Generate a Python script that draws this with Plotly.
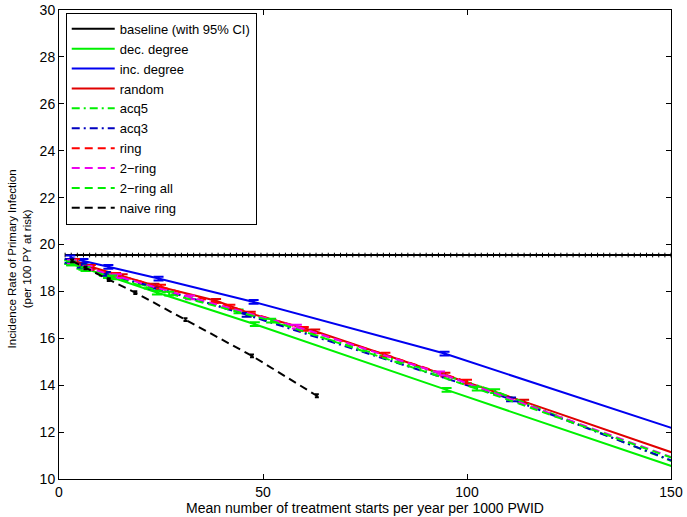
import plotly.graph_objects as go

# ---------------- data ----------------
baseline_value = 19.55
baseline_err = 0.1
baseline_x = [1.5, 3.0, 4.5, 6.0, 7.5, 9.0, 10.5, 12.0, 13.5, 15.0, 16.5, 18.0, 19.5, 21.0,
              22.5, 24.0, 25.5, 27.0, 28.5, 30.0, 31.5, 33.0, 34.5, 36.0, 37.5, 39.0, 40.5,
              42.0, 43.5, 45.0, 46.5, 48.0, 49.5, 51.0, 52.5, 54.0, 55.5, 57.0, 58.5, 60.0,
              61.5, 63.0, 64.5, 66.0, 67.5, 69.0, 70.5, 72.0, 73.5, 75.0, 76.5, 78.0, 79.5,
              81.0, 82.5, 84.0, 85.5, 87.0, 88.5, 90.0, 91.5, 93.0, 94.5, 96.0, 97.5, 99.0,
              100.5, 102.0, 103.5, 105.0, 106.5, 108.0, 109.5, 111.0, 112.5, 114.0, 115.5,
              117.0, 118.5, 120.0, 121.5, 123.0, 124.5, 126.0, 127.5, 129.0, 130.5, 132.0,
              133.5, 135.0, 136.5, 138.0, 139.5, 141.0, 142.5, 144.0, 145.5, 147.0, 148.5, 150.0]

dec_degree_x = [3.0, 6.0, 12.0, 24.0, 48.0, 95.0, 190.0]
dec_degree_y = [19.2, 19.0, 18.65, 17.95, 16.6, 13.8, 8.2]

inc_degree_x = [2.8, 6.0, 12.1, 24.4, 47.7, 94.5, 190.0]
inc_degree_y = [19.45, 19.3, 19.05, 18.55, 17.55, 15.35, 9.9]

random_x = [3.9, 7.8, 15.6, 23.4, 38.5, 47.0, 62.8, 94.7, 114.0, 190.0]
random_y = [19.3, 19.05, 18.65, 18.25, 17.6, 17.05, 16.3, 14.45, 13.3, 8.75]

acq5_x = [2.5, 5.5, 11.0, 22.0, 44.0, 106.9, 190.0]
acq5_y = [19.25, 19.05, 18.75, 18.2, 17.15, 13.75, 8.0]

acq3_x = [2.6, 5.6, 11.5, 23.0, 46.0, 110.8, 190.0]
acq3_y = [19.3, 19.1, 18.75, 18.2, 17.0, 13.4, 8.15]

ring_x = [3.5, 7.5, 14.0, 25.0, 42.0, 60.0, 80.0, 100.0]
ring_y = [19.25, 19.0, 18.7, 18.2, 17.35, 16.4, 15.3, 14.15]

ring2_x = [3.2, 7.0, 14.2, 32.1, 58.3, 93.4, 180.0]
ring2_y = [19.25, 19.0, 18.65, 17.75, 16.5, 14.5, 9.05]

ring2all_x = [3.0, 6.5, 13.0, 27.0, 52.0, 102.4, 190.0]
ring2all_y = [19.2, 18.95, 18.6, 17.9, 16.75, 13.85, 8.45]

naive_x = [3.2, 6.5, 12.2, 18.7, 31.0, 47.3, 63.2]
naive_y = [19.3, 19.0, 18.5, 17.95, 16.8, 15.25, 13.55]

series_err = 0.08

x_ticks = [0, 50, 100, 150]
y_ticks = [10, 12, 14, 16, 18, 20, 22, 24, 26, 28, 30]

FONT = "Liberation Sans, Arial, Helvetica, sans-serif"

# ---------------- figure ----------------
fig = go.Figure()

fig.add_trace(go.Scatter(
    x=baseline_x, y=[baseline_value] * len(baseline_x), mode="lines",
    name="baseline (with 95% CI)", line=dict(color="black", width=2),
    error_y=dict(type="constant", value=baseline_err, color="black", thickness=1, width=0),
))

def add_series(xs, ys, name, color, dash, width=2):
    fig.add_trace(go.Scatter(
        x=xs, y=ys, mode="lines", name=name,
        line=dict(color=color, width=width, dash=dash),
        error_y=dict(type="constant", value=series_err, color=color, thickness=2, width=5),
    ))

DASH = "8px,5px"
DASHDOT = "8px,4px,2px,4px"

add_series(dec_degree_x, dec_degree_y, "dec. degree", "#00f000", "solid")
add_series(inc_degree_x, inc_degree_y, "inc. degree", "#0000f0", "solid")
add_series(random_x, random_y, "random", "#e00000", "solid")
add_series(acq5_x, acq5_y, "acq5", "#00f000", DASHDOT)
add_series(acq3_x, acq3_y, "acq3", "#0000c0", DASHDOT)
add_series(ring_x, ring_y, "ring", "#ff0000", DASH)
add_series(ring2_x, ring2_y, "2\u2212ring", "#f000f0", DASH)
add_series(ring2all_x, ring2all_y, "2\u2212ring all", "#00f000", DASH)
fig.add_trace(go.Scatter(
    x=naive_x, y=naive_y, mode="lines", name="naive ring",
    line=dict(color="black", width=2, dash=DASH),
    error_y=dict(type="constant", value=0.06, color="black", thickness=2, width=2),
))

axis_common = dict(
    showline=True, linecolor="black", linewidth=1, mirror="ticks",
    ticks="inside", ticklen=5, tickcolor="black", showgrid=False, zeroline=False,
    automargin=False,
    tickfont=dict(family=FONT, size=14, color="black"),
)

fig.update_layout(
    width=687, height=517,
    margin=dict(l=59, r=16, t=10, b=38),
    paper_bgcolor="white", plot_bgcolor="white",
    font=dict(family=FONT, size=13, color="black"),
    xaxis=dict(range=[0, 150], tickvals=x_ticks,
               title=dict(text="Mean number of treatment starts per year per 1000 PWID",
                          font=dict(size=14), standoff=2),
               **axis_common),
    yaxis=dict(range=[10, 30], tickvals=y_ticks, **axis_common),
    legend=dict(x=0.011, y=0.994, xanchor="left", yanchor="top",
                bgcolor="white", bordercolor="black", borderwidth=1,
                font=dict(size=13), tracegroupgap=0, itemwidth=43),
    showlegend=True,
    annotations=[dict(
        text="Incidence Rate of Primary Infection<br>(per 100 PY at risk)",
        xref="paper", yref="paper", x=-0.064, y=0.47, xanchor="center", yanchor="middle",
        textangle=-90, showarrow=False, font=dict(family=FONT, size=11.5, color="black"),
    )],
)

fig.write_html("out.html", config={"displayModeBar": False},
               post_script="document.body.style.margin='0px';")
